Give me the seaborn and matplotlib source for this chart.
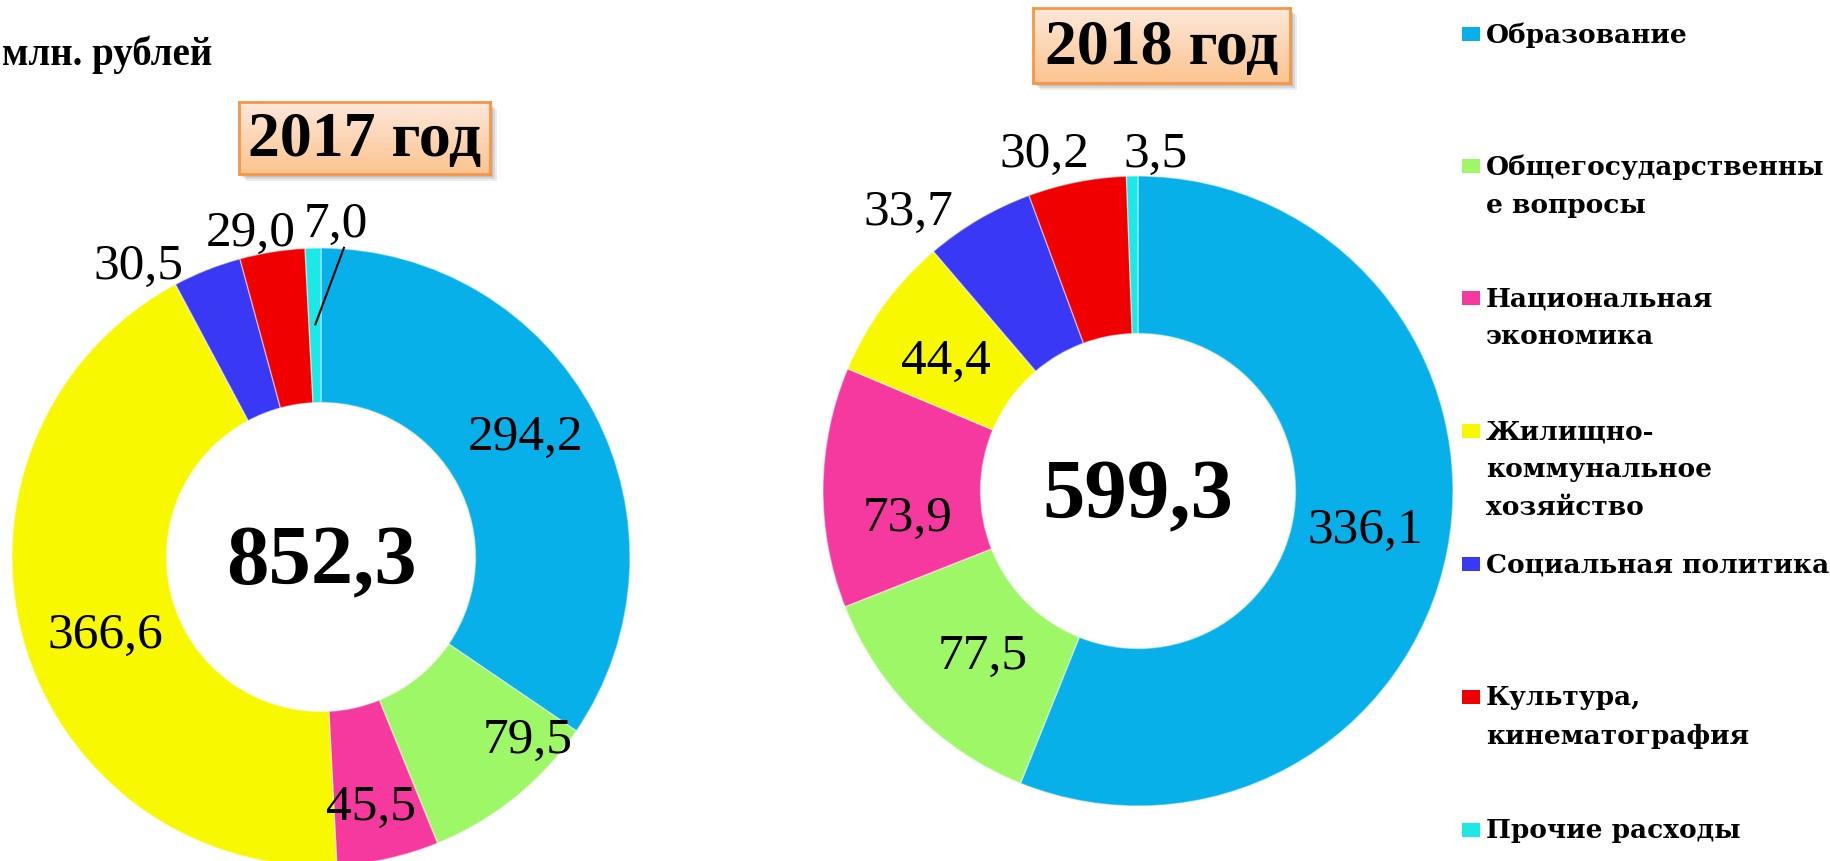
import numpy as np
import matplotlib
matplotlib.use("Agg")
import matplotlib.pyplot as plt
import seaborn as sns
from matplotlib.patches import Rectangle
from matplotlib.colors import LinearSegmentedColormap

# ---------------- data ----------------
categories = ["Образование", "Общегосударственные вопросы", "Национальная экономика",
              "Жилищно-коммунальное хозяйство", "Социальная политика",
              "Культура, кинематография", "Прочие расходы"]
legend_labels = ["Образование", "Общегосударственны\nе вопросы", "Национальная\nэкономика",
                 "Жилищно-\nкоммунальное\nхозяйство", "Социальная политика",
                 "Культура,\nкинематография", "Прочие расходы"]
values_2017 = [294.2, 79.5, 45.5, 366.6, 30.5, 29.0, 7.0]
values_2018 = [336.1, 77.5, 73.9, 44.4, 33.7, 30.2, 3.5]
year_titles = ["2017 год", "2018 год"]
unit_label = "млн. рублей"

# ---------------- style / layout ----------------
colors = ["#08B0EA", "#9EF766", "#F5399E", "#F8F800", "#3838F5", "#F00000", "#1CE8E8"]
palette = sns.color_palette(colors)

# label placement: radius (in outer-radius units) and angular tweak (deg) from wedge middle
lab_r_2017 = [0.767, 0.893, 0.824, 0.742, 1.113, 1.073, 1.08]
lab_dt_2017 = [2.7, 9.6, -1.3, 4.4, 10.5, 3.1, -4.1]
lab_r_2018 = [0.732, 0.718, 0.735, 0.739, 1.147, 1.11, 1.071]
lab_dt_2018 = [1.3, 1.8, 7.2, 2.0, 9.1, 4.3, -4.0]

sns.set_theme(style="white")
plt.rcParams['font.family'] = ['Liberation Serif', 'DejaVu Serif']

W, H = 1830, 862
fig = plt.figure(figsize=(W / 100, H / 100), dpi=100)
fig.patch.set_facecolor('white')


def fmt(v):
    return f"{v:.1f}".replace('.', ',')


def donut(values, cx, cy, R, lab_r, lab_dt, leader_idx=None):
    pad = 1.4
    h = R * pad
    ax = fig.add_axes([(cx - h) / W, (H - (cy + h)) / H, 2 * h / W, 2 * h / H])
    ax.pie(values, colors=palette, startangle=90, counterclock=False, radius=1.0,
           wedgeprops=dict(width=0.5, edgecolor=(1, 1, 1, 0.45), linewidth=1.0))
    ax.set_xlim(-pad, pad)
    ax.set_ylim(-pad, pad)
    ax.set_aspect('equal')
    ax.axis('off')
    vals = np.asarray(values, dtype=float)
    total = vals.sum()
    cum = np.cumsum(vals) / total
    start = np.concatenate([[0.0], cum[:-1]])
    mid = (start + cum) / 2
    theta = 90 - 360 * mid
    for i, v in enumerate(vals):
        a = np.deg2rad(theta[i] + lab_dt[i])
        x, y = lab_r[i] * np.cos(a), lab_r[i] * np.sin(a)
        ax.text(x, y, fmt(v), ha='center', va='center', fontsize=37,
                color='black', clip_on=False)
        if leader_idx is not None and i == leader_idx:
            am = np.deg2rad(theta[i])
            ax.plot([x + 0.026, 0.75 * np.cos(am)], [y - 0.075, 0.75 * np.sin(am)],
                    color='black', lw=1.5, solid_capstyle='butt')
    ax.text(0, -0.02, fmt(total), ha='center', va='center', fontsize=61,
            fontweight='bold', color='black')
    return ax


donut(values_2017, 321, 558, 309, lab_r_2017, lab_dt_2017, leader_idx=6)
donut(values_2018, 1138, 492, 315, lab_r_2018, lab_dt_2018)

# ---------------- title boxes ----------------
cmap_box = LinearSegmentedColormap.from_list('peach', ['#FDE8DA', '#FBC48F'])


def title_box(x0, y0, x1, y1, text):
    for k, al in [(7, 0.15), (5, 0.2), (3, 0.25)]:
        sh = fig.add_axes([(x0 + k) / W, (H - (y1 + k)) / H, (x1 - x0) / W, (y1 - y0) / H])
        sh.axis('off')
        sh.add_patch(Rectangle((0, 0), 1, 1, transform=sh.transAxes,
                               facecolor='#808080', edgecolor='none', alpha=al))
    ax = fig.add_axes([x0 / W, (H - y1) / H, (x1 - x0) / W, (y1 - y0) / H])
    grad = np.linspace(0, 1, 100)[:, None]
    ax.imshow(grad, aspect='auto', cmap=cmap_box, extent=[0, 1, 0, 1], origin='upper')
    ax.set_xlim(0, 1)
    ax.set_ylim(0, 1)
    ax.set_xticks([])
    ax.set_yticks([])
    for s in ax.spines.values():
        s.set_color('#F79646')
        s.set_linewidth(2)
    ax.text(0.5, 0.47, text, ha='center', va='center', fontsize=46,
            fontweight='bold', color='black', transform=ax.transAxes)


title_box(239, 103, 490, 175, year_titles[0])
title_box(1033, 9, 1290, 84, year_titles[1])

fig.text(2 / W, 1 - 55 / H, unit_label, ha='left', va='center', fontsize=28,
         fontweight='bold', color='black')

# ---------------- legend ----------------
entry_y = [35, 167, 299, 432, 565, 698, 831]
line_gap = 38
for lab, col, yc in zip(legend_labels, palette, entry_y):
    fig.add_artist(Rectangle((1462 / W, 1 - (yc + 7) / H), 18 / W, 14 / H,
                             transform=fig.transFigure, facecolor=col,
                             edgecolor='none'))
    for k, line in enumerate(lab.split('\n')):
        fig.text(1486 / W, 1 - (yc + k * line_gap) / H, line, ha='left',
                 va='center', fontsize=19, fontweight='bold',
                 family=['DejaVu Serif'], color='black')

fig.savefig('out.png', dpi=100, facecolor='white')
